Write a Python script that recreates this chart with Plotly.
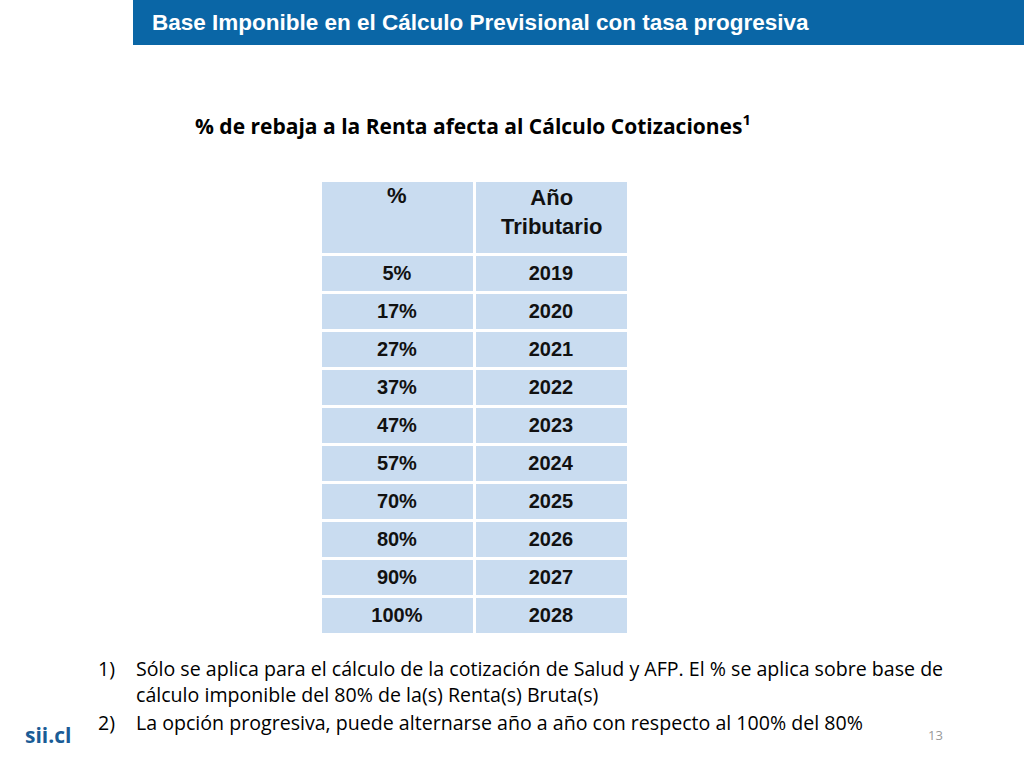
import plotly.graph_objects as go

header = ["%", "Año<br>Tributario"]
pcts = ["5%", "17%", "27%", "37%", "47%", "57%", "70%", "80%", "90%", "100%"]
years = ["2019", "2020", "2021", "2022", "2023", "2024", "2025", "2026", "2027", "2028"]

fig = go.Figure(go.Table(
    domain=dict(x=[320/1024, 628/1024], y=[1-634/768, 1-180/768]),
    columnwidth=[1, 1],
    header=dict(values=["", ""], height=74, fill_color="#c9dcf0",
                line=dict(color="white", width=3), align="center"),
    cells=dict(values=[["<b>%s</b>" % v for v in pcts], ["<b>%s</b>" % v for v in years]],
               height=38, fill_color="#c9dcf0",
               line=dict(color="white", width=3), align="center",
               font=dict(family="Liberation Sans, Arial", size=20, color="#111"))
))
for i, (h, yy) in enumerate(zip(header, [196, 212])):
    fig.add_annotation(x=(397 if i == 0 else 551)/1024, y=1-yy/768, xref="paper", yref="paper",
                       xanchor="center", yanchor="middle", text="<b>%s</b>" % h, showarrow=False,
                       font=dict(family="Liberation Sans, Arial", size=22, color="#111"))

fig.add_shape(type="rect", xref="paper", yref="paper", x0=133/1024, x1=1, y0=1-45/768, y1=1,
              fillcolor="#0a66a6", line_width=0, layer="below")
fig.add_annotation(x=150/1024, y=1-23/768, xref="paper", yref="paper", xanchor="left", yanchor="middle",
                   text="<b>Base Imponible en el Cálculo Previsional con tasa progresiva</b>", showarrow=False,
                   font=dict(family="Liberation Sans, Arial", size=22.5, color="white"))
fig.add_annotation(x=473/1024, y=1-125/768, xref="paper", yref="paper", xanchor="center", yanchor="middle",
                   text="<b>% de rebaja a la Renta afecta al Cálculo Cotizaciones<sup>1</sup></b>", showarrow=False,
                   font=dict(family="Open Sans, Noto Sans", size=21, color="black"))
notes = [("1)", "Sólo se aplica para el cálculo de la cotización de Salud y AFP. El % se aplica sobre base de", 668),
         ("", "cálculo imponible del 80% de la(s) Renta(s) Bruta(s)", 694),
         ("2)", "La opción progresiva, puede alternarse año a año con respecto al 100% del 80%", 722)]
for num, txt, y in notes:
    if num:
        fig.add_annotation(x=96/1024, y=1-y/768, xref="paper", yref="paper", xanchor="left", yanchor="middle",
                           text=num, showarrow=False, font=dict(family="Open Sans, Noto Sans", size=19.6, color="black"))
    fig.add_annotation(x=134/1024, y=1-y/768, xref="paper", yref="paper", xanchor="left", yanchor="middle",
                       text=txt, showarrow=False, font=dict(family="Open Sans, Noto Sans", size=19.6, color="black"))
fig.add_annotation(x=48/1024, y=1-735/768, xref="paper", yref="paper", xanchor="center", yanchor="middle",
                   text="<b>sii.cl</b>", showarrow=False, font=dict(family="Open Sans, Noto Sans", size=21, color="#1a5c96"))
fig.add_annotation(x=935/1024, y=1-735/768, xref="paper", yref="paper", xanchor="center", yanchor="middle",
                   text="13", showarrow=False, font=dict(family="Open Sans, Noto Sans", size=13, color="#999"))
fig.update_layout(width=1024, height=768, margin=dict(l=0, r=0, t=0, b=0),
                  paper_bgcolor="white", plot_bgcolor="white")
fig.write_html("out.html", config={"displayModeBar": False})
with open("out.html", encoding="utf-8") as f:
    html = f.read()
html = html.replace("<head>", "<head><style>body{margin:0;overflow:hidden}</style>", 1)
with open("out.html", "w", encoding="utf-8") as f:
    f.write(html)
